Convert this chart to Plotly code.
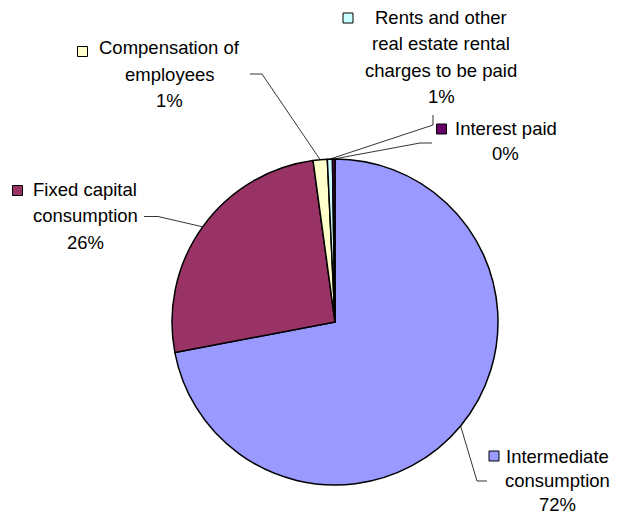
import math
import plotly.graph_objects as go

# Expenditure breakdown (share of total, %)
labels = ["Intermediate consumption", "Fixed capital consumption",
          "Compensation of employees",
          "Rents and other real estate rental charges to be paid",
          "Interest paid"]
values = [72.0, 25.85, 1.4, 0.5, 0.25]
shown_pct = ["72%", "26%", "1%", "1%", "0%"]
colors = ["#9999FF", "#993366", "#FFFFCC", "#CCFFFF", "#660066"]

OFF = 8                      # page body margin in the browser
W, H = 618 - OFF, 516 - OFF  # figure size
CX, CY, R = 335, 322, 163    # pie centre / radius in window pixels


def px(x, y):
    return (x - OFF) / W, 1 - (y - OFF) / H


def anchor(i):
    # point on the pie rim at the middle of slice i (clockwise from 12 o'clock)
    total = sum(values)
    mid = (sum(values[:i]) + values[i] / 2) / total * 2 * math.pi
    return CX + R * math.sin(mid), CY - R * math.cos(mid)


x0, y0 = px(CX - R, CY + R)
x1, y1 = px(CX + R, CY - R)
fig = go.Figure(go.Pie(
    labels=labels, values=values, sort=False, direction="clockwise", rotation=0,
    marker=dict(colors=colors, line=dict(color="black", width=1.5)),
    textinfo="none", hoverinfo="label+percent", showlegend=False,
    domain=dict(x=[x0, x1], y=[y0, y1]),
))

# label blocks: text lines, centre x, first line y, line step, key square centre, leader path
blocks = [
    (["Intermediate", "consumption", shown_pct[0]], 557, 456, 24, (494, 456),
     lambda a: [a, (477, 481), (487, 481)]),
    (["Fixed capital", "consumption", shown_pct[1]], 85, 189, 26.5, (17.5, 190.5),
     lambda a: [(144, 216.5), (158, 216.5), a]),
    (["Compensation of", "employees", shown_pct[2]], 170, 48, 26, (82.5, 51.5),
     lambda a: [(250, 74), (262, 74), a]),
    (["Rents and other", "real estate rental", "charges to be paid", shown_pct[3]], 441, 18, 26,
     (348, 18), lambda a: [(433, 115), (433, 125), a]),
    (["Interest paid", shown_pct[4]], 506, 128, 25.5, (441.5, 129),
     lambda a: [(432, 143), (420, 143), a]),
]

annotations, shapes = [], []
for i, (lines, x, ly, step, key, leader) in enumerate(blocks):
    for j, line in enumerate(lines):
        xx, yy = px(x, ly + step * j)
        annotations.append(dict(x=xx, y=yy, xref="paper", yref="paper", text=line,
                                showarrow=False, xanchor="center", yanchor="middle",
                                font=dict(size=18.5, color="black")))
    kx0, ky0 = px(key[0] - 5, key[1] + 5)
    kx1, ky1 = px(key[0] + 5, key[1] - 5)
    shapes.append(dict(type="rect", xref="paper", yref="paper", x0=kx0, y0=ky0, x1=kx1, y1=ky1,
                       fillcolor=colors[i], line=dict(color="black", width=1)))
    pts = [px(*p) for p in leader(anchor(i))]
    path = "M " + " L ".join(f"{a:.5f},{b:.5f}" for a, b in pts)
    shapes.append(dict(type="path", xref="paper", yref="paper", path=path,
                       line=dict(color="black", width=0.8)))

fig.update_layout(
    width=W, height=H, margin=dict(l=0, r=0, t=0, b=0),
    paper_bgcolor="white", plot_bgcolor="white",
    font=dict(family="Liberation Sans, Arial, sans-serif", color="black"),
    annotations=annotations, shapes=shapes,
)

fig.write_html("out.html")
